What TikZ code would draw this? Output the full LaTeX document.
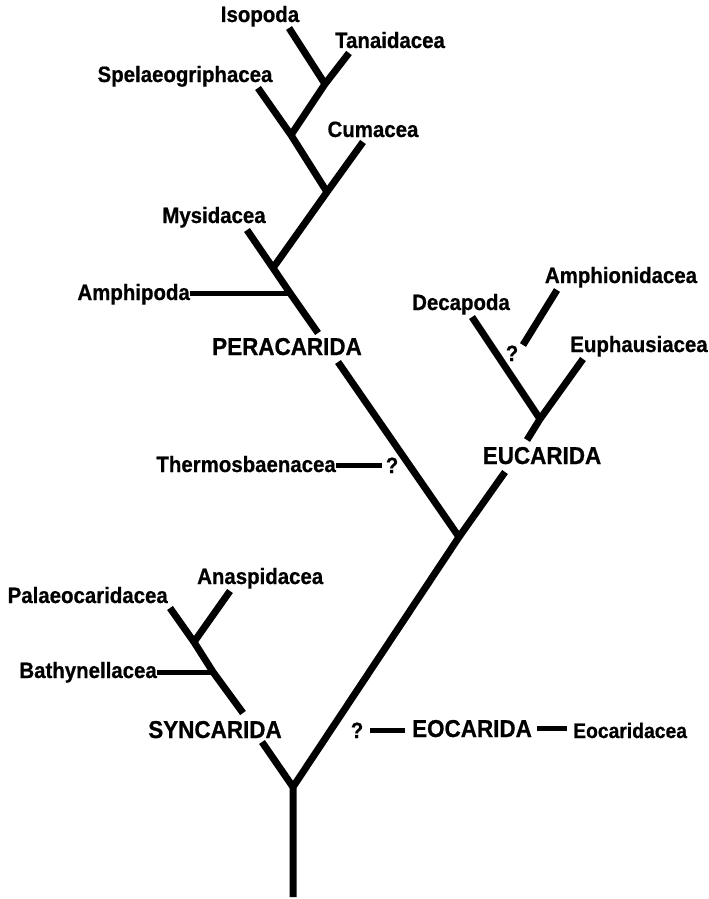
\documentclass[tikz,border=0pt]{standalone}
\usepackage{fontspec}
\setmainfont{Liberation Sans}[FakeStretch=0.92, BoldFeatures={FakeBold=0.7}]
\begin{document}
\begin{tikzpicture}[x=1pt,y=-1pt,
  br/.style={line width=7pt, line join=round},
  hl/.style={line width=5pt},
  thin hl/.style={line width=4.5pt},
  lab/.style={font=\fontsize{22.2}{26}\selectfont\bfseries, inner sep=0pt},
  grp/.style={font=\fontsize{24.4}{28}\selectfont\bfseries, inner sep=0pt},
  eo/.style={font=\fontsize{21}{25}\selectfont\bfseries, inner sep=0pt}]
\useasboundingbox (0,0) rectangle (709,899);
% junctions and branch ends
\coordinate (rootEnd) at (293,897);
\coordinate (rootJ) at (293,787);
\coordinate (mainJ) at (459,537);
\coordinate (peraBot) at (338,362);
\coordinate (peraTop) at (318,333);
\coordinate (amphJ) at (290,293);
\coordinate (mysJ) at (273,268);
\coordinate (mysEnd) at (247,230);
\coordinate (cumJ) at (327,192);
\coordinate (cumEnd) at (363,142);
\coordinate (spelJ) at (291,135);
\coordinate (spelEnd) at (258,88);
\coordinate (tanJ) at (325,84);
\coordinate (tanEnd) at (349,53);
\coordinate (isoEnd) at (289,28);
\coordinate (eucBot) at (505,472);
\coordinate (eucTop) at (527,440);
\coordinate (eucJ) at (540,419);
\coordinate (decEnd) at (472,317);
\coordinate (euphEnd) at (583,359);
\coordinate (amphiTop) at (557,290);
\coordinate (amphiBot) at (523,345);
\coordinate (synBot) at (262,742);
\coordinate (synTop) at (243,713);
\coordinate (bathJ) at (213,672);
\coordinate (anaJ) at (194,642);
\coordinate (anaEnd) at (230,591);
\coordinate (palEnd) at (170,608);
% branches
\draw[br] (mysEnd) -- (mysJ) -- (amphJ) -- (peraTop);
\draw[br] (peraBot) -- (mainJ) -- (rootJ) -- (rootEnd);
\draw[br] (cumEnd) -- (cumJ) -- (mysJ);
\draw[br] (spelEnd) -- (spelJ) -- (cumJ);
\draw[br] (tanEnd) -- (tanJ) -- (spelJ);
\draw[br] (isoEnd) -- (tanJ);
\draw[br] (decEnd) -- (eucJ) -- (eucTop);
\draw[br] (eucBot) -- (mainJ);
\draw[br] (euphEnd) -- (eucJ);
\draw[br] (amphiTop) -- (amphiBot);
\draw[br] (palEnd) -- (anaJ) -- (bathJ) -- (synTop);
\draw[br] (synBot) -- (rootJ);
\draw[br] (anaEnd) -- (anaJ);
% leaf labels
\node[lab, anchor=base] (isopoda) at (260,22) {Isopoda};
\node[lab, anchor=base] (tanaid) at (390,48) {Tanaidacea};
\node[lab, anchor=base] (spel) at (185,82) {Spelaeogriphacea};
\node[lab, anchor=base] (cuma) at (373,137) {Cumacea};
\node[lab, anchor=base] (mysid) at (214,223) {Mysidacea};
\node[lab, anchor=base east] (amphipoda) at (190,300) {Amphipoda};
\node[lab, anchor=base] (decapoda) at (461,310) {Decapoda};
\node[lab, anchor=base] (amphion) at (621,283) {Amphionidacea};
\node[lab, anchor=base] (euph) at (639,352) {Euphausiacea};
\node[lab, anchor=base] (qamph) at (512,361) {?};
\node[lab, anchor=base east] (thermo) at (336,472) {Thermosbaenacea};
\node[lab, anchor=base] (qthermo) at (392,473) {?};
\node[lab, anchor=base east] (palaeo) at (168,603) {Palaeocaridacea};
\node[lab, anchor=base west] (anasp) at (197,584) {Anaspidacea};
\node[lab, anchor=base east] (bathy) at (157,678) {Bathynellacea};
\node[eo, anchor=base west] (eocaridacea) at (573,738) {Eocaridacea};
% group labels
\node[grp, anchor=base] (pera) at (287,355) {PERACARIDA};
\node[grp, anchor=base] (euca) at (542,464) {EUCARIDA};
\node[grp, anchor=base] (synca) at (215,738) {SYNCARIDA};
\node[grp, anchor=base] (eoca) at (472,737) {EOCARIDA};
\node[lab, anchor=base] (qeoca) at (357,738) {?};
% horizontal connectors
\draw[hl] (amphJ -| amphipoda.east) -- (amphJ);
\draw[hl] (bathJ -| bathy.east) -- (bathJ);
\draw[thin hl, shorten >=4pt] (thermo.east |- qthermo) -- (qthermo.west);
\draw[thin hl, shorten <=7pt, shorten >=7pt] (qeoca.east) -- (eoca.west |- qeoca.east);
\draw[thin hl, shorten <=5pt, shorten >=6pt] (eoca.east) -- (eocaridacea.west |- eoca.east);
\end{tikzpicture}
\end{document}
